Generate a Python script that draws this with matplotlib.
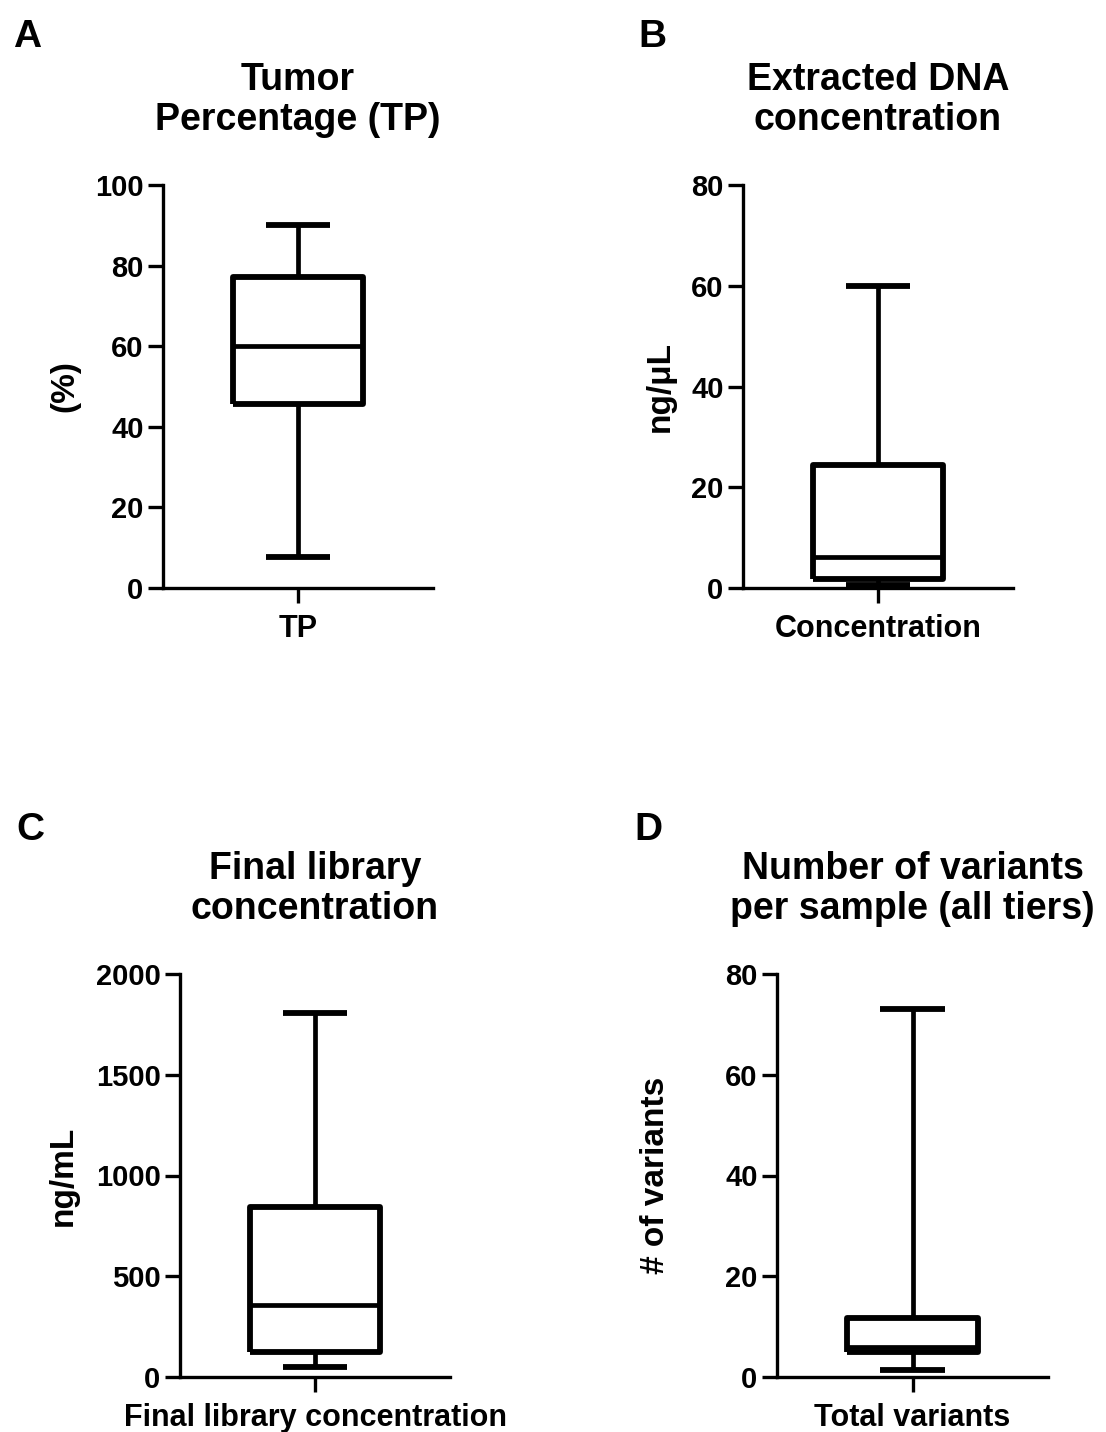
import matplotlib
matplotlib.use("Agg")
import matplotlib.pyplot as plt

plt.rcParams['font.family'] = ['Liberation Sans', 'DejaVu Sans']
plt.rcParams['font.weight'] = 'bold'

# box statistics
panels = ['A', 'B', 'C', 'D']
titles = ['Tumor\nPercentage (TP)', 'Extracted DNA\nconcentration',
          'Final library\nconcentration', 'Number of variants\nper sample (all tiers)']
xlabels = ['TP', 'Concentration', 'Final library concentration', 'Total variants']
ylabels = ['(%)', 'ng/\u03bcL', 'ng/mL', '# of variants']
whislo = [7.7, 0.6, 50, 1.4]
q1 = [45.7, 1.7, 124, 5.0]
med = [60.0, 6.2, 357, 6.0]
q3 = [77.2, 24.4, 844, 11.7]
whishi = [90.0, 60.0, 1806, 73.0]
ymax = [100, 80, 2000, 80]
ystep = [20, 20, 500, 20]

W, H = 1106, 1432
fig = plt.figure(figsize=(W / 100, H / 100), dpi=100)

# axes boxes in pixels: left, right, top, bottom
boxes = [(163, 433, 185, 588), (743, 1013, 185, 588),
         (180, 450, 974, 1377), (777, 1048, 974, 1377)]
letter_pos = [(27, 37), (652, 37), (30, 830), (648, 830)]
title_y = [100, 100, 889, 889]
ylab_x = [65, 660, 63, 655]

for i in range(4):
    l, r, t, b = boxes[i]
    ax = fig.add_axes([l / W, 1 - b / H, (r - l) / W, (b - t) / H])
    stats = [dict(whislo=whislo[i], q1=q1[i], med=med[i], q3=q3[i], whishi=whishi[i])]
    art = ax.bxp(stats, positions=[1], widths=0.48, capwidths=0.24, showfliers=False,
                 boxprops=dict(color='black', linewidth=4.2),
                 whiskerprops=dict(color='black', linewidth=3.4),
                 capprops=dict(color='black', linewidth=4.2),
                 medianprops=dict(color='black', linewidth=3.4))
    for key in art:
        for a in art[key]:
            a.set_clip_on(False)
            a.set_solid_capstyle('butt')
    ax.set_xlim(0.5, 1.5)
    ax.set_ylim(0, ymax[i])
    ax.set_yticks(range(0, ymax[i] + 1, ystep[i]))
    ax.set_xticks([1])
    ax.set_xticklabels([xlabels[i]])
    ax.spines['top'].set_visible(False)
    ax.spines['right'].set_visible(False)
    for s in ['left', 'bottom']:
        ax.spines[s].set_linewidth(2.4)
    ax.tick_params(axis='both', direction='out', length=11, width=2.4, pad=3)
    ax.tick_params(axis='y', labelsize=21)
    ax.tick_params(axis='x', labelsize=22, pad=8)
    for lab in ax.get_xticklabels() + ax.get_yticklabels():
        lab.set_fontweight('bold')

    cx = (l + r) / 2
    fig.text(cx / W, 1 - title_y[i] / H, titles[i], ha='center', va='center',
             fontsize=27, fontweight='bold', linespacing=1.17)
    fig.text(letter_pos[i][0] / W, 1 - letter_pos[i][1] / H, panels[i], ha='center',
             va='center', fontsize=28, fontweight='bold')
    fig.text(ylab_x[i] / W, 1 - ((t + b) / 2) / H, ylabels[i], ha='center', va='center',
             rotation=90, fontsize=24, fontweight='bold')

fig.savefig('out.png', dpi=100, facecolor='white')
